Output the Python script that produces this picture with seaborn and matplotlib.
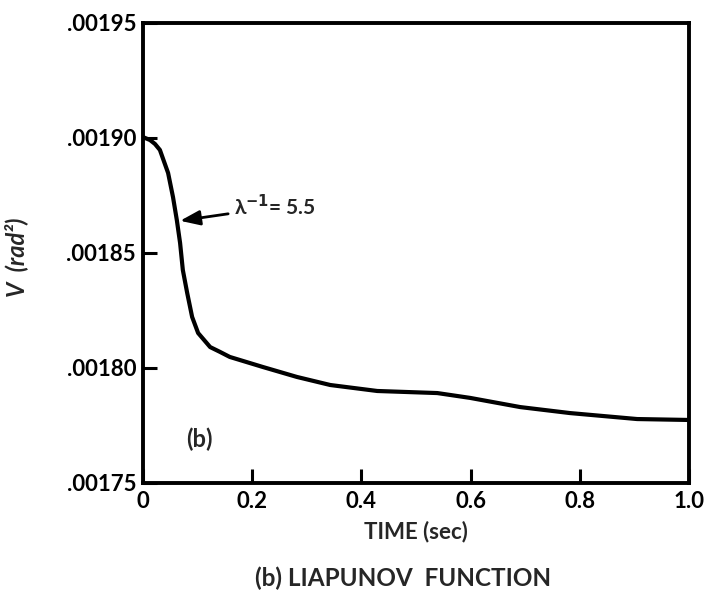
import matplotlib
matplotlib.use("Agg")
import matplotlib.pyplot as plt
import seaborn as sns
import pandas as pd

# Liapunov function V(t) for lambda^-1 = 5.5
time_s = [0.0, 0.013, 0.022, 0.031, 0.046, 0.055, 0.062, 0.068, 0.073, 0.081,
          0.090, 0.101, 0.123, 0.141, 0.159, 0.220, 0.282, 0.343, 0.429,
          0.490, 0.539, 0.599, 0.691, 0.782, 0.905, 1.0]
v_rad2 = [0.0019004, 0.0018991, 0.0018974, 0.0018948, 0.0018848, 0.0018743,
          0.0018643, 0.0018543, 0.0018426, 0.0018326, 0.0018222, 0.0018152,
          0.0018091, 0.0018070, 0.0018048, 0.0018004, 0.0017961, 0.0017926,
          0.0017900, 0.0017895, 0.0017891, 0.0017870, 0.0017830, 0.0017804,
          0.0017778, 0.0017774]

x_ticks = [0.0, 0.2, 0.4, 0.6, 0.8, 1.0]
x_tick_labels = ["0", "0.2", "0.4", "0.6", "0.8", "1.0"]
y_ticks = [0.00175, 0.00180, 0.00185, 0.00190, 0.00195]
y_tick_labels = [".00175", ".00180", ".00185", ".00190", ".00195"]

sns.set_style("ticks")
plt.rcParams["font.family"] = ["Lato", "DejaVu Sans"]
plt.rcParams["font.weight"] = "bold"

df = pd.DataFrame({"t": time_s, "V": v_rad2})

fig = plt.figure(figsize=(7.05, 6.02), dpi=100)
ax = fig.add_axes([0.2028, 0.1977, 0.7745, 0.7641])

sns.lineplot(data=df, x="t", y="V", ax=ax, color="black", linewidth=3.0,
             solid_joinstyle="round", solid_capstyle="round")

ax.set_xlim(0, 1.0)
ax.set_ylim(0.00175, 0.00195)
ax.set_xticks(x_ticks)
ax.set_xticklabels(x_tick_labels)
ax.set_yticks(y_ticks)
ax.set_yticklabels(y_tick_labels)
ax.tick_params(axis="both", direction="in", length=10, width=2.2,
               labelsize=16, pad=6, colors="black")
ax.tick_params(axis="y", pad=5)

for side in ["left", "right", "top", "bottom"]:
    ax.spines[side].set_visible(True)
    ax.spines[side].set_linewidth(2.8)
    ax.spines[side].set_color("black")

ax.set_xlabel("TIME (sec)", fontsize=16, fontweight="bold", labelpad=6)
ax.set_ylabel("V  (rad²)", fontsize=17, fontweight="bold", style="italic")
ax.yaxis.set_label_coords(-0.21, 0.49)

ax.annotate("λ$^{-1}$= 5.5", xy=(0.068, 0.001864), xytext=(0.167, 0.00187),
            fontsize=15, fontweight="bold", va="center", ha="left",
            arrowprops=dict(arrowstyle="-|>,head_length=0.8,head_width=0.3",
                            color="black", lw=2.0, shrinkA=2, shrinkB=0))

ax.text(0.104, 0.001769, "(b)", fontsize=17, fontweight="bold",
        ha="center", va="center")

fig.text(0.572, 0.040, "(b) LIAPUNOV  FUNCTION", fontsize=17.5,
         fontweight="bold", ha="center", va="center")

fig.savefig("out.png", dpi=100)
